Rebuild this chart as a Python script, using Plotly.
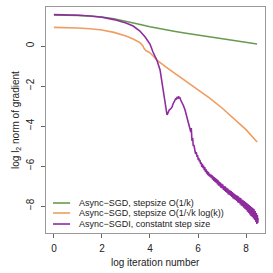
import plotly.graph_objects as go

# ---- data ----
green_x = [0, 0.5, 1, 1.5, 2, 2.5, 3, 3.5, 4, 4.5, 5, 5.5, 6, 6.5, 7, 7.5, 8, 8.46]
green_y = [1.55, 1.55, 1.53, 1.5, 1.45, 1.36, 1.24, 1.1, 0.96, 0.84, 0.74, 0.64, 0.55, 0.46, 0.37, 0.28, 0.19, 0.1]

orange_x = [0, 0.5, 1, 1.5, 2, 2.5, 3, 3.3, 3.58, 3.7, 3.75, 3.85, 3.95, 4.05, 4.33, 4.7, 5.0,
            5.5, 6.0, 6.5, 7.0, 7.5, 8.0, 8.46]
orange_y = [0.93, 0.92, 0.9, 0.86, 0.8, 0.68, 0.5, 0.35, 0.17, 0.02, -0.12, -0.25, -0.3, -0.4, -0.75,
            -1.08, -1.33, -1.75, -2.17, -2.62, -3.1, -3.62, -4.18, -4.8]

purple_x = [0, 0.5, 1, 1.5, 2, 2.5, 3, 3.3, 3.58, 3.8, 4.0, 4.125, 4.3, 4.42, 4.54, 4.62, 4.71,
            4.75, 4.8, 4.86, 4.92, 4.96, 5.0, 5.04, 5.08, 5.1, 5.13, 5.17, 5.2, 5.22, 5.25, 5.28,
            5.33, 5.4, 5.46, 5.52, 5.58, 5.64, 5.67,
            5.70, 5.72, 5.75, 5.78, 5.80, 5.83, 5.86, 5.88, 5.90, 5.93, 5.96, 5.98, 6.01, 6.03,
            6.06, 6.08, 6.11, 6.13, 6.16, 6.18, 6.21, 6.23, 6.26, 6.28, 6.31, 6.33, 6.36, 6.38,
            6.41, 6.43, 6.46, 6.48, 6.51, 6.53, 6.56, 6.58, 6.61, 6.63, 6.66, 6.68, 6.71, 6.73,
            6.76, 6.78, 6.81, 6.83, 6.86, 6.88, 6.91, 6.93, 6.96, 6.98, 7.01, 7.03, 7.06, 7.08,
            7.11, 7.13, 7.16, 7.18, 7.21, 7.23, 7.26, 7.28, 7.31, 7.33, 7.36, 7.38, 7.41, 7.43,
            7.46, 7.48, 7.51, 7.53, 7.56, 7.58, 7.61, 7.63, 7.66, 7.68, 7.71, 7.73, 7.76, 7.78,
            7.81, 7.83, 7.86, 7.88, 7.91, 7.93, 7.96, 7.98, 8.01, 8.03, 8.06, 8.08, 8.11, 8.13,
            8.16, 8.18, 8.21, 8.23, 8.26, 8.28, 8.31, 8.33, 8.36, 8.38, 8.41, 8.43, 8.45, 8.47,
            8.49, 8.50]
purple_y = [1.57, 1.56, 1.54, 1.5, 1.44, 1.32, 1.15, 1.0, 0.75, 0.45, 0.1, -0.3, -0.75, -1.2, -2.05,
            -2.8, -3.45, -3.35, -3.2, -3.15, -3.05, -2.9, -2.8, -2.7, -2.62, -2.68, -2.55, -2.6,
            -2.52, -2.62, -2.58, -2.7, -2.8, -3.0, -3.2, -3.45, -3.7, -3.95, -4.1,
            -4.3, -4.1, -4.75, -4.6, -5.0, -4.95, -5.25, -5.15, -5.4, -5.3, -5.55, -5.45, -5.7,
            -5.6, -5.78, -5.7, -5.9, -5.82, -6.05, -5.9, -6.1, -5.98, -6.2, -6.05, -6.3, -6.15,
            -6.38, -6.25, -6.45, -6.3, -6.5, -6.38, -6.55, -6.42, -6.6, -6.45, -6.68, -6.52, -6.75,
            -6.55, -6.8, -6.6, -6.85, -6.65, -6.92, -6.7, -6.98, -6.78, -7.02, -6.82, -7.1, -6.88,
            -7.12, -6.92, -7.2, -7.0, -7.25, -7.02, -7.3, -7.08, -7.35, -7.12, -7.42, -7.18, -7.45,
            -7.22, -7.5, -7.25, -7.55, -7.3, -7.62, -7.35, -7.66, -7.4, -7.7, -7.45, -7.75, -7.48,
            -7.82, -7.52, -7.85, -7.58, -7.92, -7.6, -7.98, -7.68, -8.02, -7.72, -8.08, -7.75,
            -8.15, -7.8, -8.2, -7.85, -8.28, -7.9, -8.35, -7.95, -8.42, -8.0, -8.5, -8.05, -8.55,
            -8.1, -8.62, -8.15, -8.7, -8.25, -8.8, -8.35, -8.9, -8.45, -8.85, -8.6, -8.9]

series_names = ["Async\u2212SGD, stepsize O(1/k)",
                "Async\u2212SGD, stepsize O(1/\u221ak log(k))",
                "Async\u2212SGDI, constatnt step size"]
series_colors = ["#6a9a50", "#ef9d60", "#8e2c9e"]

x_ticks = [0, 2, 4, 6, 8]
y_ticks = [0, -2, -4, -6, -8]
x_title = "log iteration number"
y_title = "log l<sub>2</sub> norm of gradient"

FONT = "Liberation Sans, Arial, sans-serif"

fig = go.Figure()
for xs, ys, name, col in zip([green_x, orange_x, purple_x], [green_y, orange_y, purple_y],
                             series_names, series_colors):
    fig.add_trace(go.Scatter(x=xs, y=ys, mode="lines", name=name,
                             line=dict(color=col, width=1.6), showlegend=False))

# manual compact legend (R style)
leg_y = [0.1327, 0.0885, 0.0398]
for name, col, yy in zip(series_names, series_colors, leg_y):
    fig.add_shape(type="line", xref="paper", yref="paper", x0=0.032, x1=0.110, y0=yy, y1=yy,
                  line=dict(color=col, width=1.6))
    fig.add_annotation(xref="paper", yref="paper", x=0.1416, y=yy, text=name, showarrow=False,
                       xanchor="left", yanchor="middle", font=dict(family=FONT, size=9, color="#222"))

# axis titles placed like R's mgp
fig.add_annotation(xref="paper", yref="paper", x=0.5, y=-0.13, text=x_title, showarrow=False,
                   xanchor="center", yanchor="middle", font=dict(family=FONT, size=10, color="#222"))
fig.add_annotation(xref="paper", yref="paper", x=-0.137, y=0.5, text=y_title, showarrow=False,
                   textangle=-90, xanchor="center", yanchor="middle",
                   font=dict(family=FONT, size=10, color="#222"))

fig.update_layout(
    width=273, height=273,
    margin=dict(l=46, r=8, t=7, b=40),
    paper_bgcolor="white", plot_bgcolor="white",
    font=dict(family=FONT, size=10, color="#222"),
    xaxis=dict(range=[-0.33, 8.79], tickvals=x_ticks, ticks="outside", ticklen=4, tickcolor="#666",
               automargin=False, ticklabelstandoff=2,
               showline=True, mirror=True, linecolor="#999", linewidth=1, showgrid=False, zeroline=False),
    yaxis=dict(range=[-9.35, 1.95], tickvals=y_ticks, ticks="outside", ticklen=4, tickcolor="#666",
               tickangle=-90, automargin=False, ticklabelstandoff=3,
               showline=True, mirror=True, linecolor="#999", linewidth=1, showgrid=False, zeroline=False),
)

fig.write_html("out.html", config={"displayModeBar": False},
               post_script="document.body.style.margin='0';")
